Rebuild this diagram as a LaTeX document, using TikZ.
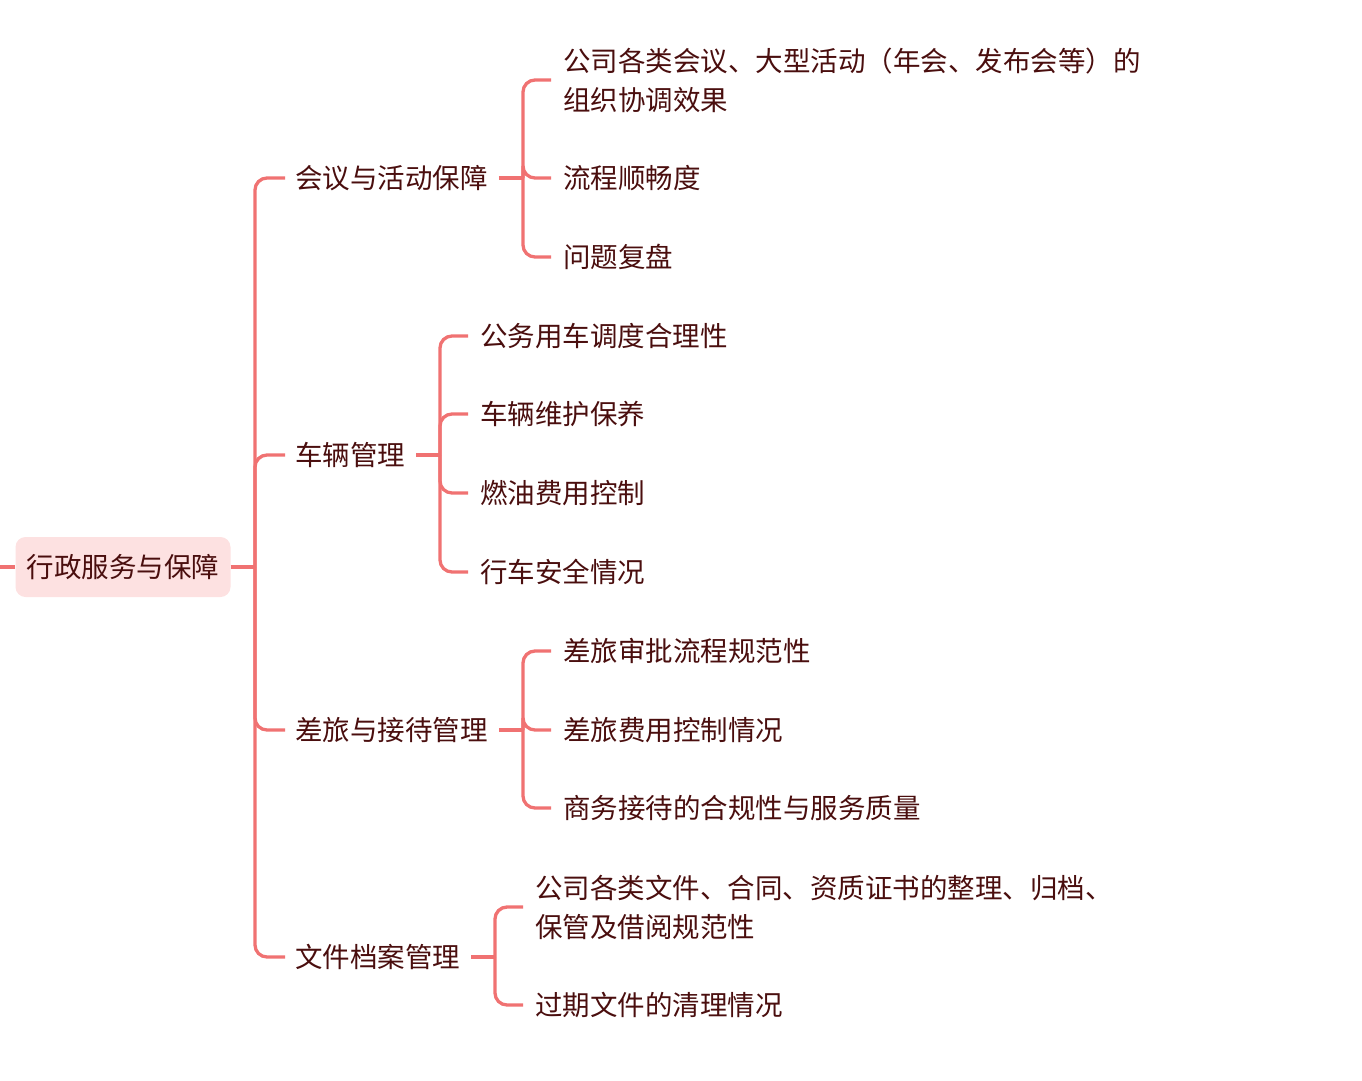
\documentclass[tikz,border=0pt]{standalone}
\usepackage{fontspec}
\setmainfont{Noto Sans CJK SC}
\definecolor{ln}{HTML}{F07272}
\definecolor{tx}{HTML}{4A0E0E}
\definecolor{rf}{HTML}{FDE1E1}
\begin{document}
\begin{tikzpicture}[x=1pt,y=-1pt,
  lbl/.style={anchor=west,inner sep=0pt,text=tx,font=\fontsize{27.5}{39}\selectfont,align=left},
  con/.style={draw=ln,line width=3.3pt,rounded corners=12pt}]
\useasboundingbox (0,0) rectangle (1362,1080);
\node[fill=rf,rounded corners=10pt,minimum width=215pt,minimum height=60pt,inner sep=0pt,text=tx,font=\fontsize{27.5}{30}\selectfont] (root) at (123,567) {行政服务与保障};
\coordinate (rl) at (0,567);
\draw[con] (rl) -- (root.west);
\node[lbl] (a) at (295,178) {会议与活动保障};
\node[lbl] (b) at (295,455) {车辆管理};
\node[lbl] (c) at (295,730) {差旅与接待管理};
\node[lbl] (d) at (295,957) {文件档案管理};
\coordinate (t) at (255,567);
\draw[con] (root.east) -- (t);
\foreach \n in {a,b,c,d}{\draw[con] (t) |- ([xshift=-10pt]\n.west);}
% a
\node[lbl] (a1) at (563,80) {公司各类会议、大型活动（年会、发布会等）的\\组织协调效果};
\node[lbl] (a2) at (563,178) {流程顺畅度};
\node[lbl] (a3) at (563,257) {问题复盘};
\coordinate (ab) at (523,178);
\draw[con] ([xshift=11pt]a.east) -- (ab);
\foreach \n in {a1,a2,a3}{\draw[con] (ab) |- ([xshift=-12pt]\n.west);}
% b
\node[lbl] (b1) at (480,336) {公务用车调度合理性};
\node[lbl] (b2) at (480,414) {车辆维护保养};
\node[lbl] (b3) at (480,493) {燃油费用控制};
\node[lbl] (b4) at (480,572) {行车安全情况};
\coordinate (bb) at (440,455);
\draw[con] ([xshift=11pt]b.east) -- (bb);
\foreach \n in {b1,b2,b3,b4}{\draw[con] (bb) |- ([xshift=-12pt]\n.west);}
% c
\node[lbl] (c1) at (563,651) {差旅审批流程规范性};
\node[lbl] (c2) at (563,730) {差旅费用控制情况};
\node[lbl] (c3) at (563,808) {商务接待的合规性与服务质量};
\coordinate (cb) at (523,730);
\draw[con] ([xshift=11pt]c.east) -- (cb);
\foreach \n in {c1,c2,c3}{\draw[con] (cb) |- ([xshift=-12pt]\n.west);}
% d
\node[lbl] (d1) at (535,907) {公司各类文件、合同、资质证书的整理、归档、\\保管及借阅规范性};
\node[lbl] (d2) at (535,1005) {过期文件的清理情况};
\coordinate (db) at (495,957);
\draw[con] ([xshift=11pt]d.east) -- (db);
\foreach \n in {d1,d2}{\draw[con] (db) |- ([xshift=-12pt]\n.west);}
\end{tikzpicture}
\end{document}
